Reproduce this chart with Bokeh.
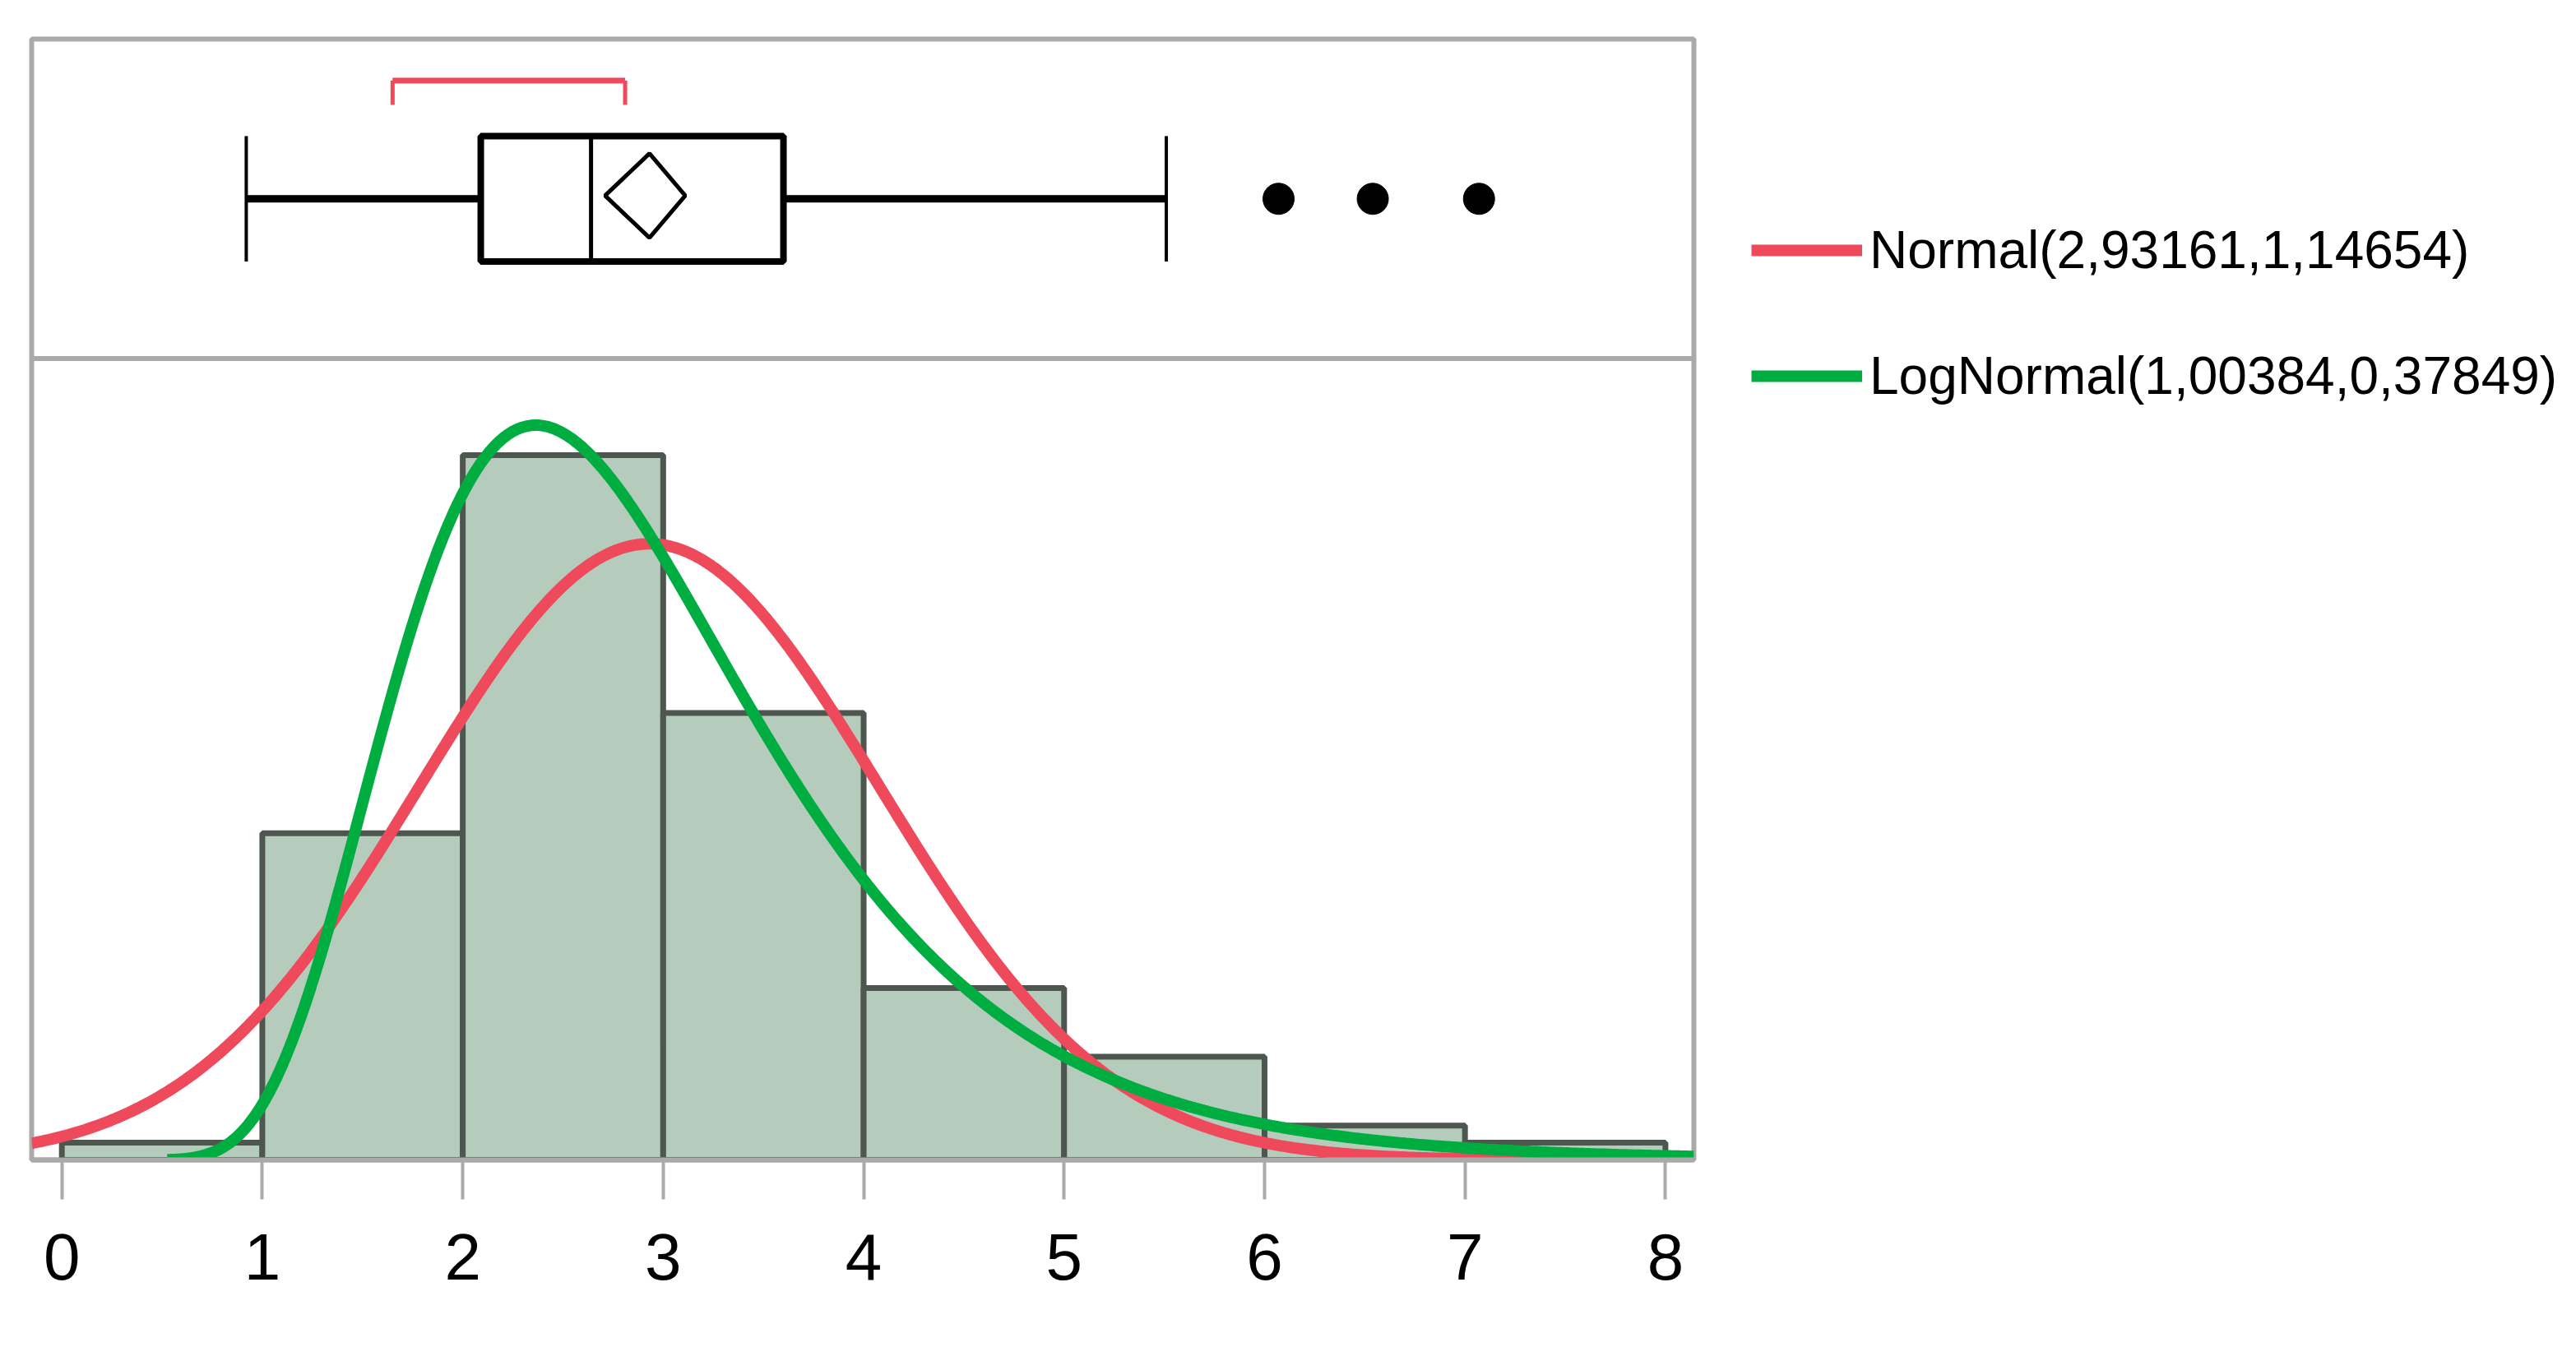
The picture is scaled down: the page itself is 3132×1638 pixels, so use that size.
import numpy as np
from bokeh.plotting import figure
from bokeh.models import Range1d, Span, Legend, LegendItem, FixedTicker
from bokeh.embed import file_html
from bokeh.resources import INLINE

# ---------------- data ----------------
bin_edges = [0, 1, 2, 3, 4, 5, 6, 7, 8]
counts = [1, 19, 41, 26, 10, 6, 2, 1]
n_fit = 103                      # sample size used to scale the fitted curves
normal_mu, normal_sigma = 2.93161, 1.14654
lognorm_mu, lognorm_sigma = 1.00384, 0.37849
whisker_low, q1, median, q3, whisker_high = 0.92, 2.09, 2.64, 3.60, 5.51
mean_value = 2.93161
mean_ci = [2.71, 3.11]
outliers = [6.07, 6.54, 7.07]
shortest_half = [1.65, 2.81]
x_ticks = [0, 1, 2, 3, 4, 5, 6, 7, 8]
legend_labels = ["Normal(2,93161,1,14654)", "LogNormal(1,00384,0,37849)"]

# ---------------- styles ----------------
RED = "#ee4a5c"
GREEN = "#00ad40"
BAR_FILL = "#b5cbbb"
BAR_LINE = "#4d5750"
FRAME = "#aaaaaa"
FONT = "Liberation Sans"

x_lo, x_hi = -0.1506, 8.142

p = figure(frame_width=2021, frame_height=1363,
           x_range=Range1d(x_lo, x_hi), y_range=Range1d(0, 65.2),
           output_backend="svg", toolbar_location=None,
           y_axis_location=None,
           min_border_left=38, min_border_top=47,
           min_border_right=1055, min_border_bottom=30,
           background_fill_color="white", border_fill_color="white",
           outline_line_color=FRAME, outline_line_width=6)
p.extra_y_ranges = {"box": Range1d(-2.508, 1.0)}
p.grid.visible = False

# histogram
p.quad(left=bin_edges[:-1], right=bin_edges[1:], bottom=0, top=counts,
       fill_color=BAR_FILL, line_color=BAR_LINE, line_width=7)

# fitted curves
xn = np.linspace(x_lo, x_hi, 500)
yn = n_fit * np.exp(-0.5 * ((xn - normal_mu) / normal_sigma) ** 2) / (normal_sigma * np.sqrt(2 * np.pi))
r_norm = p.line(xn, yn, line_color=RED, line_width=14)

xl = np.linspace(0.526, x_hi, 500)
yl = n_fit * np.exp(-0.5 * ((np.log(xl) - lognorm_mu) / lognorm_sigma) ** 2) / (xl * lognorm_sigma * np.sqrt(2 * np.pi))
r_logn = p.line(xl, yl, line_color=GREEN, line_width=14)

# separator between the box plot panel and histogram
p.add_layout(Span(location=0, dimension="width", y_range_name="box",
                  line_color=FRAME, line_width=6))

# ---------------- box plot (in the "box" range) ----------------
yc, hh = 0.5, 0.196
p.segment(x0=[whisker_low, q3], y0=[yc, yc], x1=[q1, whisker_high], y1=[yc, yc],
          line_color="black", line_width=9, y_range_name="box")
p.segment(x0=[whisker_low, whisker_high], y0=[yc - hh] * 2,
          x1=[whisker_low, whisker_high], y1=[yc + hh] * 2,
          line_color="black", line_width=4, y_range_name="box")
p.quad(left=[q1], right=[q3], bottom=[yc - hh], top=[yc + hh],
       fill_color="white", line_color="black", line_width=8, y_range_name="box")
p.segment(x0=[median], y0=[yc - hh], x1=[median], y1=[yc + hh],
          line_color="black", line_width=5, y_range_name="box")
dy = 0.51
p.patch(x=[mean_ci[0], mean_value, mean_ci[1], mean_value],
        y=[dy, dy + 0.132, dy, dy - 0.132],
        fill_color=None, line_color="black", line_width=5, y_range_name="box")
p.scatter(x=outliers, y=[yc] * len(outliers), size=38, marker="circle",
          fill_color="black", line_color="black", y_range_name="box")
# shortest half bracket
p.segment(x0=[shortest_half[0]], y0=[0.870], x1=[shortest_half[1]], y1=[0.870],
          line_color=RED, line_width=7, y_range_name="box")
p.segment(x0=shortest_half, y0=[0.870, 0.870], x1=shortest_half, y1=[0.794, 0.794],
          line_color=RED, line_width=5, y_range_name="box")

# ---------------- axis ----------------
ax = p.xaxis[0]
ax.ticker = FixedTicker(ticks=x_ticks)
ax.axis_line_color = FRAME
ax.axis_line_width = 6
ax.major_tick_line_color = FRAME
ax.major_tick_line_width = 4
ax.major_tick_out = 48
ax.major_tick_in = 0
ax.minor_tick_line_color = None
ax.major_label_text_font = FONT
ax.major_label_text_font_size = "80px"
ax.major_label_text_color = "black"
ax.major_label_standoff = 42

# ---------------- legend ----------------
legend = Legend(items=[LegendItem(label=legend_labels[0], renderers=[r_norm]),
                       LegendItem(label=legend_labels[1], renderers=[r_logn])],
                location=(70, 903), orientation="vertical",
                glyph_width=135, glyph_height=100, label_height=100,
                spacing=53, padding=0, margin=0, label_standoff=9,
                label_text_font=FONT, label_text_font_size="64px",
                label_text_color="black",
                border_line_color=None, background_fill_alpha=0)
p.add_layout(legend, "right")

open("out.html", "w").write(file_html(p, INLINE))
